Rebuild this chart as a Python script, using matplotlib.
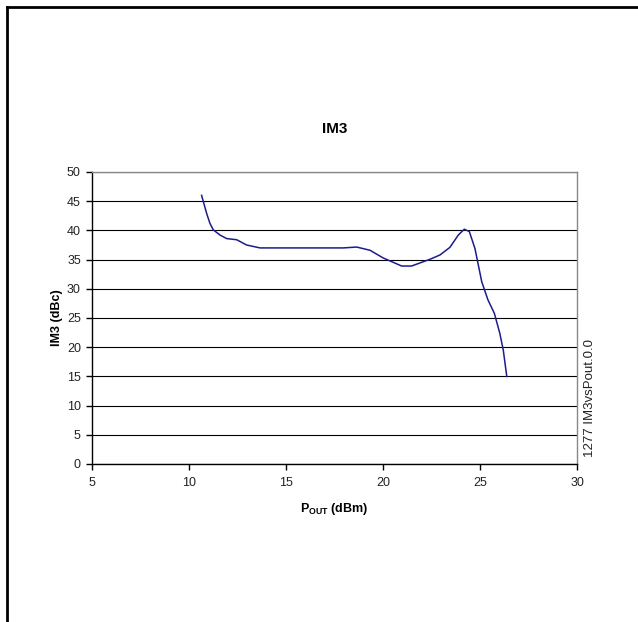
import matplotlib
matplotlib.use("Agg")
import matplotlib.pyplot as plt
from matplotlib.lines import Line2D

plt.rcParams['font.family'] = ['Liberation Sans', 'DejaVu Sans']
plt.rcParams['mathtext.fontset'] = 'custom'
plt.rcParams['mathtext.rm'] = 'Liberation Sans'
plt.rcParams['mathtext.bf'] = 'Liberation Sans:bold'

# Data
pout = [10.65, 10.91, 11.08, 11.25, 11.6, 11.94, 12.46, 12.97, 13.66, 14.5, 15.5,
        16.5, 17.3, 17.96, 18.64, 19.33, 20.0, 20.96, 21.47, 22.42, 22.94,
        23.45, 23.88, 24.19, 24.45, 24.74, 25.09, 25.41, 25.74, 26.02, 26.2, 26.38]
im3 = [46.0, 42.9, 41.2, 40.1, 39.2, 38.6, 38.4, 37.5, 37.0, 37.0, 37.0,
       37.0, 37.0, 37.0, 37.15, 36.6, 35.3, 33.9, 33.9, 35.05, 35.8,
       37.1, 39.2, 40.2, 39.8, 36.9, 31.2, 28.1, 25.8, 22.4, 19.5, 15.0]

x_ticks = [5, 10, 15, 20, 25, 30]
y_ticks = [0, 5, 10, 15, 20, 25, 30, 35, 40, 45, 50]

fig = plt.figure(figsize=(6.38, 6.22), dpi=100)
ax = fig.add_axes([92/638, 1-464/622, (577-92)/638, (464-172)/622])

ax.set_xlim(5, 30)
ax.set_ylim(0, 50)
ax.set_xticks(x_ticks)
ax.set_yticks(y_ticks)
ax.yaxis.grid(True, color='black', linewidth=0.8)
ax.set_axisbelow(True)

ax.plot(pout, im3, color='#1c1c8c', linewidth=1.1)

for s in ['top', 'right']:
    ax.spines[s].set_color('#888888')
    ax.spines[s].set_linewidth(1.0)
for s in ['left', 'bottom']:
    ax.spines[s].set_color('black')
    ax.spines[s].set_linewidth(1.0)

ax.tick_params(axis='both', direction='out', length=4, width=1, labelsize=9,
               colors='black', labelcolor='#222222', pad=4)
ax.tick_params(axis='x', pad=5)

ax.set_title('IM3', fontsize=11, fontweight='bold', pad=28)
ax.set_xlabel(r'$\mathbf{P_{OUT}}$ (dBm)', fontsize=9, fontweight='bold', labelpad=9)
ax.set_ylabel('IM3 (dBc)', fontsize=9, fontweight='bold', labelpad=3)

fig.text(590/638, 1-398/622, '1277 IM3vsPout.0.0', rotation=90, fontsize=9.5,
         ha='center', va='center', color='#222222')

# outer frame (top and left edges visible)
fig.add_artist(Line2D([6.5/638, 1.0], [1-6.5/622, 1-6.5/622], color='black', linewidth=2,
                      transform=fig.transFigure))
fig.add_artist(Line2D([6.5/638, 6.5/638], [0, 1-6.5/622], color='black', linewidth=2,
                      transform=fig.transFigure))

fig.savefig('out.png', dpi=100, facecolor='white')
